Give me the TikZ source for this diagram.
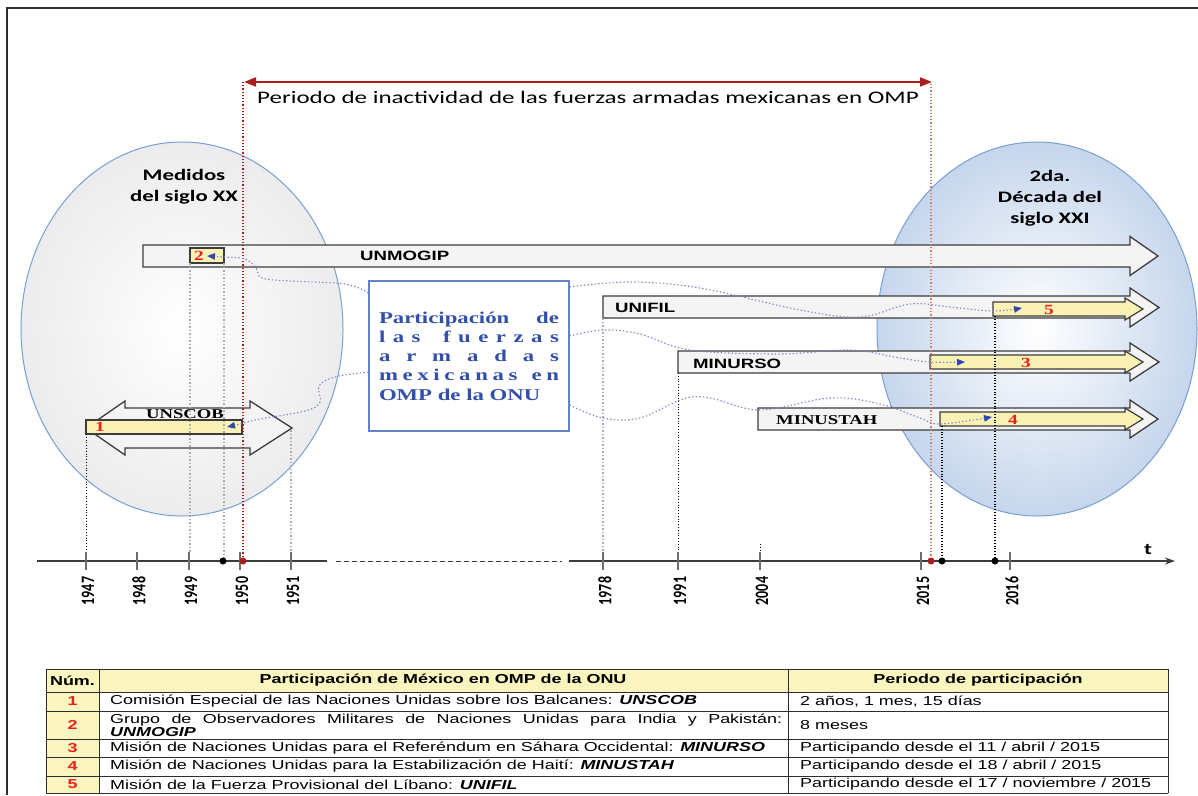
\documentclass[tikz,border=0pt]{standalone}
\usepackage{fontspec}
\usepackage{graphicx}
\usetikzlibrary{arrows.meta,calc}
\newfontfamily\calibf[FakeStretch=1.42]{Carlito}
\newfontfamily\calibplain{Carlito}
\newfontfamily\arialf[FakeStretch=1.38]{Liberation Sans}
\newfontfamily\timesf[FakeStretch=1.38]{Liberation Serif}
\definecolor{myred}{RGB}{170,30,30}
\definecolor{myredlight}{RGB}{215,120,110}
\definecolor{arrdark}{RGB}{60,60,60}
\definecolor{arrfill}{RGB}{244,244,244}
\definecolor{yel}{RGB}{250,242,180}
\definecolor{tyel}{RGB}{250,244,190}
\definecolor{numred}{RGB}{240,30,30}
\definecolor{connblue}{RGB}{120,135,210}
\definecolor{tipblue}{RGB}{50,70,180}
\definecolor{boxblue}{RGB}{100,130,200}
\definecolor{textblue}{RGB}{50,80,170}
\definecolor{ellblue}{RGB}{120,160,210}
\definecolor{ellL}{RGB}{236,236,238}
\definecolor{ellR}{RGB}{198,214,236}
\definecolor{tickgray}{RGB}{110,110,110}
\definecolor{framec}{RGB}{45,45,45}
\newcommand{\lsp}{\hspace{0pt plus 1fil}}
\newcommand{\wsp}{\hspace{0pt plus 3fil}}
\begin{document}
\begin{tikzpicture}[x=1pt,y=-1pt,
 bigarr/.style={draw=arrdark, fill=arrfill, line width=1.3pt, line join=miter},
 yelarr/.style={draw=arrdark, fill=yel, line width=1.2pt, line join=miter},
 conn/.style={draw=connblue, line width=1.1pt, dash pattern=on 1.4pt off 2.2pt, -{Triangle[length=8pt,width=6.5pt,color=tipblue]}},
 lbl/.style={font=\arialf\bfseries\fontsize{13.5}{15}\selectfont, anchor=west, inner sep=0pt},
 lblserif/.style={font=\timesf\bfseries\fontsize{13.5}{15}\selectfont, inner sep=0pt},
 rednum/.style={font=\timesf\bfseries\fontsize{14}{15}\selectfont, text=numred, inner sep=0pt},
 yearlbl/.style={rotate=90, font=\calibplain\bfseries\fontsize{14}{15}\selectfont, inner sep=0pt},
 tickmark/.style={draw=tickgray, line width=2pt},
 gdot/.style={draw=gray!65, line width=1.5pt, dotted},
 bdot/.style={draw=black, line width=0.8pt, dotted},
 rdot/.style={draw=myred, line width=1.2pt, dotted},
 rdotl/.style={draw=myredlight, line width=1.2pt, dotted},
 elltxt/.style={font=\calibf\bfseries\fontsize{16}{18}\selectfont, anchor=base, inner sep=0pt},
 tline/.style={draw=framec, line width=0.9pt},
 ttxt/.style={font=\arialf\fontsize{13}{12}\selectfont, anchor=west, inner sep=0pt},
 thead/.style={font=\arialf\bfseries\fontsize{13}{14}\selectfont, inner sep=0pt},
 tnum/.style={font=\arialf\bfseries\fontsize{13}{14}\selectfont, text=numred, inner sep=0pt},
 axdot/.style={fill=black},
]
\useasboundingbox (0,0) rectangle (1198,795);
\fill[white] (0,0) rectangle (1198,795);
\draw[framec, line width=2pt] (7,795) -- (7,8) -- (1198,8);

% ellipses
\shade[inner color=white, outer color=ellL] (182,329) ellipse [x radius=161pt, y radius=187pt];
\draw[ellblue, line width=1pt] (182,329) ellipse [x radius=161pt, y radius=187pt];
\shade[inner color=white, outer color=ellR] (1037,329) ellipse [x radius=160pt, y radius=187pt];
\draw[ellblue, line width=1pt] (1037,329) ellipse [x radius=160pt, y radius=187pt];

\node[elltxt] (med1) at (184,180) {Medidos};
\node[elltxt] (med2) at (184,201) {del siglo XX};
\node[elltxt] (dec1) at (1050,181) {2da.};
\node[elltxt] (dec2) at (1050,202) {Década del};
\node[elltxt] (dec3) at (1050,223) {siglo XXI};

% top red arrow
\coordinate (rl) at (244,82);
\coordinate (rr) at (932,82);
\draw[myred, line width=1.8pt, {Triangle[length=12pt,width=9pt]}-{Triangle[length=12pt,width=9pt]}] (rl) -- (rr);
\node[anchor=base west, inner sep=0pt, font=\calibf\fontsize{17.6}{20}\selectfont] (per) at (257,103) {Periodo de inactividad de las fuerzas armadas mexicanas en OMP};

% big arrows
\draw[bigarr] (143,245) -- (1130,245) -- (1130,236.5) -- (1158,256) -- (1130,275.5) -- (1130,267) -- (143,267) -- cycle;
\draw[bigarr] (603,296) -- (1130,296) -- (1130,288) -- (1159,307.5) -- (1130,327) -- (1130,318) -- (603,318) -- cycle;
\draw[bigarr] (678,351) -- (1130,351) -- (1130,343) -- (1159,362) -- (1130,381) -- (1130,373) -- (678,373) -- cycle;
\draw[bigarr] (758,408) -- (1130,408) -- (1130,400) -- (1158,419) -- (1130,438) -- (1130,430) -- (758,430) -- cycle;
% UNSCOB double arrow
\draw[bigarr] (86,428) -- (125,401) -- (125,408) -- (250,408) -- (250,401) -- (292,428) -- (250,455) -- (250,448) -- (125,448) -- (125,455) -- cycle;

% yellow parts
\draw[yelarr] (190,248) rectangle (224,263);
\draw[yelarr] (86,420) rectangle (242,434);
\draw[yelarr] (993,302) -- (1125,302) -- (1125,298) -- (1143,309) -- (1125,320) -- (1125,316) -- (993,316) -- cycle;
\draw[yelarr] (930,355) -- (1125,355) -- (1125,351) -- (1143,362) -- (1125,373) -- (1125,369) -- (930,369) -- cycle;
\draw[yelarr] (940,412) -- (1125,412) -- (1125,408) -- (1143,419) -- (1125,430) -- (1125,426) -- (940,426) -- cycle;

% labels
\node[lbl] (lunmogip) at (360,256) {UNMOGIP};
\node[lbl] (lunifil) at (615,308) {UNIFIL};
\node[lbl] (lminurso) at (693,364) {MINURSO};
\node[lblserif, anchor=west] (lminustah) at (776,420) {MINUSTAH};
\node[lblserif] (lunscob) at (185,414) {UNSCOB};

\node[rednum] (r2) at (199,255.5) {2};
\node[rednum] (r1) at (100,427) {1};
\node[rednum] (r5) at (1049,309.5) {5};
\node[rednum] (r3) at (1026,363) {3};
\node[rednum] (r4) at (1013,419.5) {4};

% center box
\node[draw=boxblue, line width=1.2pt, fill=white, minimum width=200pt, minimum height=150pt, inner sep=0pt, text=textblue, font=\timesf\bfseries\fontsize{16.5}{19.3}\selectfont] (box) at (469,356) {\parbox{180pt}{%
\makebox[180pt][s]{Participación de}\\
\makebox[180pt][s]{l\lsp a\lsp s\wsp f\lsp u\lsp e\lsp r\lsp z\lsp a\lsp s}\\
\makebox[180pt][s]{a\lsp r\lsp m\lsp a\lsp d\lsp a\lsp s}\\
\makebox[180pt][s]{m\lsp e\lsp x\lsp i\lsp c\lsp a\lsp n\lsp a\lsp s\wsp e\lsp n}\\
OMP de la ONU}};

% vertical guide lines
\draw[bdot] (86,434) -- (86,552);
\draw[gdot] (190,263) -- (190,552);
\draw[gdot] (224,263) -- (224,558);
\draw[gdot] (291,430) -- (291,552);
\draw[gdot] (603,318) -- (603,552);
\draw[bdot] (678,373) -- (678,552);
\draw[bdot] (760,544) -- (760,550);
\draw[bdot, line width=1.1pt] (942,426) -- (942,558);
\draw[bdot, line width=1.1pt] (995,316) -- (995,558);
\draw[rdot] (243,82) -- (243,558);
\draw[rdotl] (931,84) -- (931,558);

% connectors
\coordinate (t2) at (207,256);
\coordinate (t1) at (227,427);
\coordinate (t5) at (1022,308);
\coordinate (t3) at (965,362);
\coordinate (t4) at (992,417);
\coordinate (s2) at (box.west |- 0,293);
\coordinate (s1) at (box.west |- 0,372);
\coordinate (s5) at (box.east |- 0,287);
\coordinate (s3) at (box.east |- 0,336);
\coordinate (s4) at (box.east |- 0,405);
\draw[conn] plot[smooth, tension=0.6] coordinates {(s2) (345,284) (290,281) (262,278) (256,268) (245,259) (224,257) (t2)};
\draw[conn] plot[smooth, tension=0.6] coordinates {(s1) (335,377) (319,386) (320,402) (305,411) (260,419) (240,424) (t1)};
\draw[conn] plot[smooth, tension=0.6] coordinates {(s5) (630,282) (700,288) (800,310) (860,317) (910,304) (950,307) (993,311) (t5)};
\draw[conn] plot[smooth, tension=0.6] coordinates {(s3) (603,330) (640,334) (690,350) (780,354) (850,350) (900,358) (930,362) (t3)};
\draw[conn] plot[smooth, tension=0.6] coordinates {(s4) (603,418) (640,418) (683,399) (710,398) (760,410) (830,398) (880,404) (920,418) (940,424) (t4)};

% time axis
\draw[arrdark, line width=1.2pt] (37,561) -- (327,561);
\draw[arrdark, line width=1pt, dash pattern=on 5pt off 3pt] (336,561) -- (562,561);
\coordinate (axs) at (569,561);
\coordinate (axe) at (1175,561);
\draw[arrdark, line width=1.2pt, -{Stealth[length=10pt,width=7pt]}] (axs) -- (axe);
\node[font=\calibf\bfseries\fontsize{16}{18}\selectfont, inner sep=0pt] (tlab) at (1148,550) {t};
\foreach \xx/\yy in {86/1947,137/1948,189/1949,240/1950,291/1951,603/1978,678/1991,760/2004,921/2015,1010/2016}{
  \draw[tickmark] (\xx,552) -- (\xx,570);
  \node[yearlbl] (y\yy) at (\xx+2,591) {\scalebox{1}[1.35]{\yy}};
}
\fill[axdot] (223,561) circle (3.5pt);
\fill[axdot] (942,561) circle (3.5pt);
\fill[axdot] (995,561) circle (3.5pt);
\fill[myred] (243,561) circle (3.5pt);
\fill[myred] (931,561) circle (3.5pt);

% table
\fill[tyel] (46,669) rectangle (1168,692);
\fill[tyel] (46,692) rectangle (99,793);
\foreach \yy in {669,692,711,739,757,776,793} \draw[tline] (46,\yy) -- (1168,\yy);
\foreach \xx in {46,99,788,1168} \draw[tline] (\xx,669) -- (\xx,793);
\node[thead] (h1) at (72.5,680.5) {Núm.};
\node[thead] (h2) at (443,680.5) {Participación de México en OMP de la ONU};
\node[thead] (h3) at (978,680.5) {Periodo de participación};
\node[tnum] (n1) at (72.5,701.5) {1};
\node[tnum] (n2) at (72.5,725) {2};
\node[tnum] (n3) at (72.5,748) {3};
\node[tnum] (n4) at (72.5,766.5) {4};
\node[tnum] (n5) at (72.5,784.5) {5};
\node[ttxt] (m1) at (110,701.5) {Comisión Especial de las Naciones Unidas sobre los Balcanes: \textbf{\textit{UNSCOB}}};
\node[ttxt] (m2) at (110,725) {\parbox{672pt}{\fontsize{13}{13}\selectfont Grupo de Observadores Militares de Naciones Unidas para India y Pakistán:\linebreak\textbf{\textit{UNMOGIP}}}};
\node[ttxt] (m3) at (110,748) {Misión de Naciones Unidas para el Referéndum en Sáhara Occidental: \textbf{\textit{MINURSO}}};
\node[ttxt] (m4) at (110,766.5) {Misión de Naciones Unidas para la Estabilización de Haití: \textbf{\textit{MINUSTAH}}};
\node[ttxt] (m5) at (110,784.5) {Misión de la Fuerza Provisional del Líbano: \textbf{\textit{UNIFIL}}};
\node[ttxt] (p1) at (800,701.5) {2 años, 1 mes, 15 días};
\node[ttxt] (p2) at (800,725) {8 meses};
\node[ttxt] (p3) at (800,748) {Participando desde el 11 / abril / 2015};
\node[ttxt] (p4) at (800,766.5) {Participando desde el 18 / abril / 2015};
\node[ttxt] (p5) at (800,784.5) {Participando desde el 17 / noviembre / 2015};
\end{tikzpicture}
\end{document}
